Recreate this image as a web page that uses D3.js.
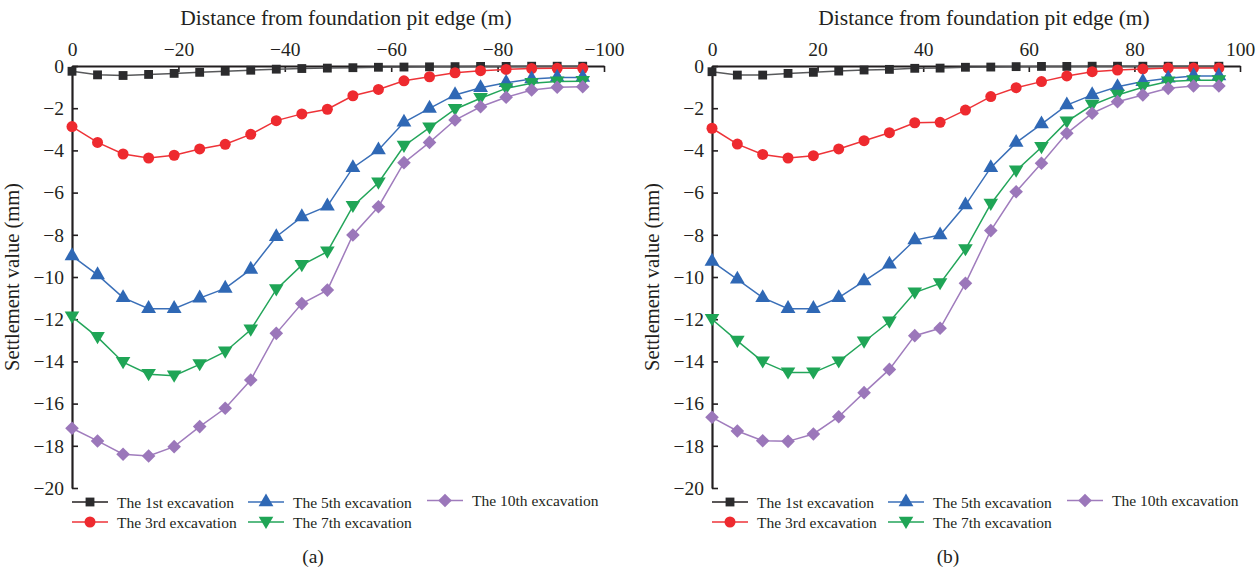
<!DOCTYPE html>
<html>
<head>
<meta charset="utf-8">
<script src="https://cdn.jsdelivr.net/npm/d3@7"></script>
<style>
  html, body { margin: 0; padding: 0; background: #fff; }
  svg text { font-family: "Liberation Serif", "DejaVu Serif", serif; fill: #231f20; }
</style>
</head>
<body>
<svg id="chart" width="1259" height="570"></svg>
<script>
// Distance from the foundation pit edge (m), 21 monitoring points
const distance = [0, 4.8, 9.6, 14.4, 19.2, 24, 28.8, 33.6, 38.4, 43.2, 48, 52.8, 57.6, 62.4, 67.2, 72, 76.8, 81.6, 86.4, 91.2, 96];

const seriesNames = ["The 1st excavation", "The 3rd excavation", "The 5th excavation", "The 7th excavation", "The 10th excavation"];

// Panel (a): settlement (mm), distance plotted as negative
const first_a   = [-0.25, -0.42, -0.45, -0.40, -0.35, -0.30, -0.25, -0.20, -0.15, -0.12, -0.10, -0.08, -0.06, -0.05, -0.04, -0.03, -0.02, -0.02, -0.01, -0.01, -0.01];
const third_a   = [-2.87, -3.62, -4.17, -4.36, -4.23, -3.93, -3.71, -3.24, -2.59, -2.27, -2.05, -1.41, -1.11, -0.70, -0.51, -0.32, -0.22, -0.16, -0.12, -0.11, -0.11];
const fifth_a   = [-9.00, -9.90, -10.98, -11.50, -11.50, -11.00, -10.54, -9.64, -8.09, -7.15, -6.64, -4.82, -3.98, -2.67, -2.01, -1.37, -1.03, -0.79, -0.62, -0.54, -0.54];
const seventh_a = [-11.88, -12.85, -14.04, -14.61, -14.68, -14.14, -13.54, -12.50, -10.59, -9.44, -8.80, -6.64, -5.53, -3.79, -2.92, -2.05, -1.53, -1.06, -0.82, -0.74, -0.72];
const tenth_a   = [-17.17, -17.77, -18.40, -18.48, -18.04, -17.09, -16.22, -14.88, -12.67, -11.26, -10.62, -8.01, -6.67, -4.58, -3.62, -2.56, -1.93, -1.48, -1.14, -1.01, -0.98];

// Panel (b): settlement (mm)
const first_b   = [-0.27, -0.43, -0.43, -0.35, -0.30, -0.24, -0.19, -0.16, -0.11, -0.10, -0.06, -0.05, -0.03, -0.02, -0.02, -0.01, -0.01, -0.01, -0.01, -0.01, -0.01];
const third_b   = [-2.95, -3.70, -4.19, -4.36, -4.25, -3.93, -3.54, -3.16, -2.69, -2.67, -2.09, -1.45, -1.03, -0.74, -0.47, -0.27, -0.19, -0.14, -0.10, -0.10, -0.10];
const fifth_b   = [-9.26, -10.11, -10.98, -11.50, -11.50, -10.98, -10.19, -9.40, -8.25, -8.01, -6.59, -4.82, -3.63, -2.75, -1.85, -1.37, -0.98, -0.74, -0.58, -0.47, -0.47];
const seventh_b = [-12.00, -13.03, -14.01, -14.53, -14.53, -14.01, -13.07, -12.12, -10.74, -10.30, -8.69, -6.54, -4.96, -3.85, -2.64, -1.85, -1.37, -1.01, -0.74, -0.68, -0.68];
const tenth_b   = [-16.65, -17.30, -17.76, -17.79, -17.44, -16.62, -15.48, -14.38, -12.78, -12.43, -10.30, -7.80, -5.96, -4.61, -3.19, -2.24, -1.69, -1.37, -1.06, -0.95, -0.95];

const xTicksA = [0, -20, -40, -60, -80, -100];
const xTicksB = [0, 20, 40, 60, 80, 100];
const yTicks = [0, -2, -4, -6, -8, -10, -12, -14, -16, -18, -20];

const SERIF = "Liberation Serif, DejaVu Serif, serif";

const styles = [
  { line: "#58595b", fill: "#2b2b2d", legendLine: "#231f20", shape: "square" },
  { line: "#ee3338", fill: "#ee2a2f", legendLine: "#ee3338", shape: "circle" },
  { line: "#3a6fb8", fill: "#2f68b5", legendLine: "#3a6fb8", shape: "up" },
  { line: "#23a55a", fill: "#1fa556", legendLine: "#23a55a", shape: "down" },
  { line: "#a07cbd", fill: "#9b77ba", legendLine: "#a07cbd", shape: "diamond" }
];

const svg = d3.select("#chart");

function markerPath(shape) {
  switch (shape) {
    case "square": return d3.symbol(d3.symbolSquare, 78)();
    case "circle": return d3.symbol(d3.symbolCircle, 95)();
    case "up": return d3.symbol(d3.symbolTriangle, 95)();
    case "down": return "M0,7L-7.3,-5.2L7.3,-5.2Z";
    case "diamond": return "M0,-6.8L6.8,0L0,6.8L-6.8,0Z";
  }
}

function drawPanel(opts) {
  const g = svg.append("g").attr("font-family", SERIF);
  const x = d3.scaleLinear().domain(opts.xDomain).range([opts.left, opts.right]);
  const y = d3.scaleLinear().domain([0, -20]).range([66, 488]);

  // Title above the top axis
  g.append("text")
    .attr("x", (opts.left + opts.right) / 2 + 8)
    .attr("y", 25)
    .attr("text-anchor", "middle")
    .style("font-size", "21.5px")
    .text("Distance from foundation pit edge (m)");

  // Top x axis, ticks pointing into the plot
  const xAxis = d3.axisTop(x).tickValues(opts.xTicks).tickSizeInner(-6).tickSizeOuter(0)
    .tickFormat(d => d3.format("d")(d).replace("-", "\u2212"));
  const gx = g.append("g").attr("transform", "translate(0,66)").call(xAxis).attr("font-family", SERIF);
  gx.select(".domain").attr("stroke", "#231f20").attr("stroke-width", 2.2);
  gx.selectAll(".tick line").attr("stroke", "#231f20").attr("stroke-width", 1.6);
  gx.selectAll(".tick text").attr("y", -10).style("font-size", "19.5px");

  // Left y axis, ticks pointing into the plot
  const yAxis = d3.axisLeft(y).tickValues(yTicks).tickSizeInner(-6).tickSizeOuter(0)
    .tickFormat(d => d3.format("d")(d));
  const gy = g.append("g").attr("transform", `translate(${opts.left},0)`).call(yAxis).attr("font-family", SERIF);
  gy.select(".domain").attr("stroke", "#231f20").attr("stroke-width", 2.2);
  gy.selectAll(".tick line").attr("stroke", "#231f20").attr("stroke-width", 1.6);
  gy.selectAll(".tick text").attr("x", -8).style("font-size", "19.5px");

  // Y axis title
  g.append("text")
    .attr("transform", `translate(${opts.left - 53},${277}) rotate(-90)`)
    .attr("text-anchor", "middle")
    .style("font-size", "20.5px")
    .text("Settlement value (mm)");

  const line = d3.line().x(d => x(d[0])).y(d => y(d[1]));

  opts.series.forEach((vals, i) => {
    const st = styles[i];
    const pts = distance.map((dv, j) => [opts.sign * dv, vals[j]]);
    g.append("path").datum(pts)
      .attr("d", line)
      .attr("fill", "none")
      .attr("stroke", st.line)
      .attr("stroke-width", 1.5);
    g.append("g").selectAll("path").data(pts).join("path")
      .attr("d", markerPath(st.shape))
      .attr("transform", d => `translate(${x(d[0])},${y(d[1])})`)
      .attr("fill", st.fill);
  });

  // Legend: three columns, two rows
  const legendPos = [[0, 0], [0, 1], [1, 0], [1, 1], [2, 0]];
  seriesNames.forEach((name, i) => {
    const st = styles[i];
    const [c, r] = legendPos[i];
    const lx = opts.legendCols[c];
    const ly = 502 + r * 20 - (c === 2 ? 1.5 : 0);
    const lg = g.append("g").attr("transform", `translate(${lx},${ly})`);
    lg.append("line").attr("x1", 0).attr("x2", 36).attr("y1", 0).attr("y2", 0)
      .attr("stroke", st.legendLine).attr("stroke-width", 1.5);
    lg.append("path").attr("d", markerPath(st.shape)).attr("transform", "translate(18,0)").attr("fill", st.fill);
    lg.append("text").attr("x", 45).attr("y", 5.5).style("font-size", "15.5px").text(name);
  });

  g.append("text")
    .attr("x", opts.labelX).attr("y", 563)
    .attr("text-anchor", "middle")
    .style("font-size", "19.5px")
    .text(opts.label);
}

drawPanel({
  left: 72, right: 604, xDomain: [0, -100], xTicks: xTicksA, sign: -1,
  series: [first_a, third_a, fifth_a, seventh_a, tenth_a],
  legendCols: [72, 248, 427], label: "(a)", labelX: 313
});

drawPanel({
  left: 712, right: 1240, xDomain: [0, 100], xTicks: xTicksB, sign: 1,
  series: [first_b, third_b, fifth_b, seventh_b, tenth_b],
  legendCols: [712, 888, 1067], label: "(b)", labelX: 948
});
</script>
</body>
</html>
